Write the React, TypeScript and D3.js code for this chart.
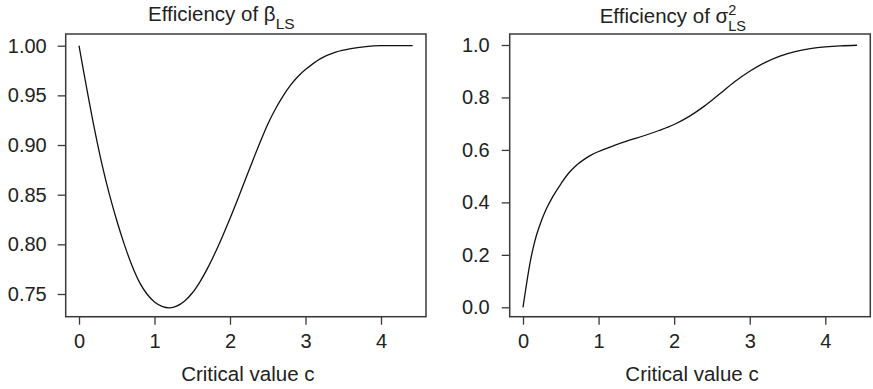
import { useEffect, useRef } from 'react';
import * as d3 from 'd3';

// Left panel: efficiency of beta_LS against critical value c
const betaC = [0, 0.1, 0.2, 0.3, 0.4, 0.5, 0.6, 0.7, 0.8, 0.9, 1.0, 1.1, 1.2, 1.3, 1.4, 1.5, 1.6, 1.7, 1.8, 1.9, 2.0, 2.1, 2.2, 2.3, 2.4, 2.5, 2.6, 2.7, 2.8, 2.9, 3.0, 3.2, 3.4, 3.6, 3.8, 4.0, 4.42];
const betaEff = [1.0, 0.958, 0.918, 0.882, 0.851, 0.824, 0.8, 0.779, 0.762, 0.75, 0.742, 0.7375, 0.736, 0.738, 0.743, 0.751, 0.762, 0.7755, 0.791, 0.808, 0.826, 0.845, 0.8645, 0.884, 0.903, 0.921, 0.936, 0.949, 0.96, 0.969, 0.976, 0.987, 0.9935, 0.997, 0.999, 1.0, 1.0];

// Right panel: efficiency of sigma^2_LS against critical value c
const sigmaC = [0, 0.05, 0.1, 0.15, 0.2, 0.3, 0.4, 0.5, 0.6, 0.7, 0.8, 0.9, 1.0, 1.2, 1.4, 1.6, 1.8, 2.0, 2.2, 2.4, 2.6, 2.8, 3.0, 3.2, 3.4, 3.6, 3.8, 4.0, 4.2, 4.42];
const sigmaEff = [0.0, 0.095, 0.18, 0.245, 0.295, 0.37, 0.425, 0.47, 0.51, 0.54, 0.562, 0.58, 0.594, 0.616, 0.636, 0.654, 0.674, 0.697, 0.728, 0.767, 0.813, 0.86, 0.9, 0.933, 0.958, 0.975, 0.986, 0.993, 0.997, 0.999];

const xTicks = [0, 1, 2, 3, 4];
const betaTicks = [0.75, 0.8, 0.85, 0.9, 0.95, 1.0];
const sigmaTicks = [0, 0.2, 0.4, 0.6, 0.8, 1.0];

const FONT = '"Liberation Sans", Arial, Helvetica, sans-serif';
const INK = '#222';

interface PanelSpec {
    box: { left: number; right: number; top: number; bottom: number };
    x: d3.ScaleLinear<number, number>;
    y: d3.ScaleLinear<number, number>;
    cs: number[];
    vals: number[];
    yTicks: number[];
    yFormat: (d: number) => string;
    yPad: number;
}

export default function App() {
    const svgRef = useRef<SVGSVGElement>(null);

    useEffect(() => {
        if (!svgRef.current) return;
        const svg = d3.select(svgRef.current);
        svg.selectAll('*').remove();

        const panels: PanelSpec[] = [
            {
                box: { left: 65.7, right: 426, top: 34, bottom: 316.7 },
                x: d3.scaleLinear().domain([0, 4]).range([79, 381]),
                y: d3.scaleLinear().domain([0.75, 1.0]).range([294, 45.7]),
                cs: betaC,
                vals: betaEff,
                yTicks: betaTicks,
                yFormat: d3.format('.2f'),
                yPad: 11,
            },
            {
                box: { left: 509.7, right: 870.3, top: 34, bottom: 316.7 },
                x: d3.scaleLinear().domain([0, 4]).range([523, 825.3]),
                y: d3.scaleLinear().domain([0, 1]).range([307.3, 45]),
                cs: sigmaC,
                vals: sigmaEff,
                yTicks: sigmaTicks,
                yFormat: d3.format('.1f'),
                yPad: 12,
            },
        ];

        panels.forEach(p => {
            const g = svg.append('g');

            // x axis (ticks hang below the box)
            const xa = g.append('g')
                .attr('transform', `translate(0,${p.box.bottom})`)
                .call(d3.axisBottom(p.x).tickValues(xTicks).tickSize(8).tickPadding(9).tickFormat(d3.format('d')));
            xa.select('.domain').attr('d', `M${p.x(0)},0H${p.x(4)}`).attr('stroke', '#3a3a3a');

            // y axis
            const ya = g.append('g')
                .attr('transform', `translate(${p.box.left},0)`)
                .call(d3.axisLeft(p.y).tickValues(p.yTicks).tickSize(8).tickPadding(p.yPad).tickFormat(d => p.yFormat(d as number)));
            ya.select('.domain').remove();

            [xa, ya].forEach(a => {
                a.selectAll('line').attr('stroke', '#3a3a3a').attr('stroke-width', 1.3);
                a.selectAll('text')
                    .style('font-family', FONT)
                    .style('font-size', '20px')
                    .attr('fill', INK);
            });

            // box
            g.append('rect')
                .attr('x', p.box.left)
                .attr('y', p.box.top)
                .attr('width', p.box.right - p.box.left)
                .attr('height', p.box.bottom - p.box.top)
                .attr('fill', 'none')
                .attr('stroke', '#3a3a3a')
                .attr('stroke-width', 1.5);

            // curve
            const line = d3.line<number>()
                .x((_, i) => p.x(p.cs[i]))
                .y(d => p.y(d))
                .curve(d3.curveCatmullRom.alpha(0.5));

            g.append('path')
                .datum(p.vals)
                .attr('d', line)
                .attr('fill', 'none')
                .attr('stroke', '#111')
                .attr('stroke-width', 1.3);

            // x label
            g.append('text')
                .attr('x', (p.box.left + p.box.right) / 2 + 2)
                .attr('y', 380.5)
                .attr('text-anchor', 'middle')
                .style('font-family', FONT)
                .style('font-size', '20.5px')
                .attr('fill', INK)
                .text('Critical value c');
        });

        // titles
        const t1 = svg.append('text')
            .attr('x', 148)
            .attr('y', 20.7)
            .style('font-family', FONT)
            .style('font-size', '20.5px')
            .attr('fill', INK);
        t1.append('tspan').text('Efficiency of β');
        t1.append('tspan').attr('dy', 8.5).style('font-size', '15.5px').text('LS');

        const t2 = svg.append('text')
            .attr('x', 599.7)
            .attr('y', 22.7)
            .style('font-family', FONT)
            .style('font-size', '20.5px')
            .attr('fill', INK);
        t2.append('tspan').text('Efficiency of σ');
        t2.append('tspan').attr('dy', -7.5).style('font-size', '14.5px').text('2');
        t2.append('tspan').attr('dx', -8.1).attr('dy', 16).style('font-size', '14.5px').text('LS');
    }, []);

    return (
        <svg
            ref={svgRef}
            width={873}
            height={389}
            style={{ position: 'absolute', left: 0, top: 0, background: '#fff' }}
        />
    );
}
